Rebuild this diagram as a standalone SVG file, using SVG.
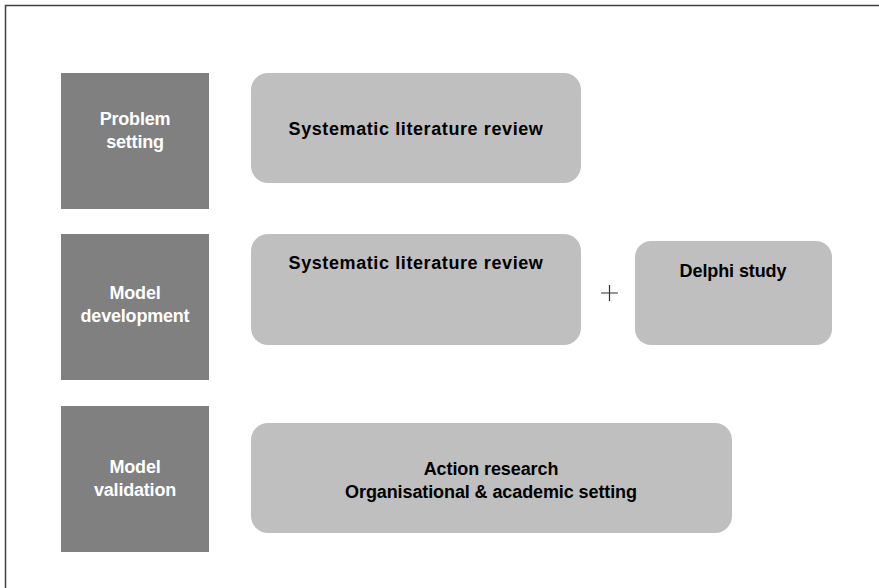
<svg xmlns="http://www.w3.org/2000/svg" width="879" height="588" viewBox="0 0 879 588">
  <style>
    .phase { fill: #808080; }
    .method { fill: #bfbfbf; }
    .phase-label { font-family: "Liberation Sans", Arial, sans-serif; font-weight: bold; font-size: 18px; fill: #ffffff; text-anchor: middle; letter-spacing: -0.2px; }
    .method-label { font-family: "Liberation Sans", Arial, sans-serif; font-weight: bold; font-size: 18px; fill: #000000; text-anchor: middle; letter-spacing: -0.1px; }
    .wide { letter-spacing: 0.6px; }
    .frame { fill: none; stroke: #404040; stroke-width: 1.5; }
    .plus { fill: none; stroke: #333333; stroke-width: 1.2; }
  </style>
  <rect width="879" height="588" fill="#ffffff"/>
  <path class="frame" d="M5.5,588 V5.5 H879"/>

  <!-- Phase column -->
  <g id="phase-problem-setting">
    <rect class="phase" x="61" y="73" width="148" height="136"/>
    <text class="phase-label" x="135" y="125">Problem</text>
    <text class="phase-label" x="135" y="148">setting</text>
  </g>
  <g id="phase-model-development">
    <rect class="phase" x="61" y="234" width="148" height="146"/>
    <text class="phase-label" x="135" y="299">Model</text>
    <text class="phase-label" x="135" y="322">development</text>
  </g>
  <g id="phase-model-validation">
    <rect class="phase" x="61" y="406" width="148" height="146"/>
    <text class="phase-label" x="135" y="473">Model</text>
    <text class="phase-label" x="135" y="496">validation</text>
  </g>

  <!-- Method boxes -->
  <g id="method-slr-1">
    <rect class="method" x="251" y="73" width="330" height="110" rx="17" ry="17"/>
    <text class="method-label wide" x="416" y="135">Systematic literature review</text>
  </g>
  <g id="method-slr-2">
    <rect class="method" x="251" y="234" width="330" height="111" rx="17" ry="17"/>
    <text class="method-label wide" x="416" y="269">Systematic literature review</text>
  </g>
  <g id="method-delphi">
    <rect class="method" x="635" y="241" width="197" height="104" rx="16" ry="16"/>
    <text class="method-label" x="733" y="277">Delphi study</text>
  </g>
  <g id="method-action-research">
    <rect class="method" x="251" y="423" width="481" height="110" rx="17" ry="17"/>
    <text class="method-label" x="491" y="475">Action research</text>
    <text class="method-label" x="491" y="498">Organisational &amp; academic setting</text>
  </g>

  <!-- Combination marker -->
  <g id="connectors">
    <path class="plus" d="M601,293 H618 M609.5,285 V301"/>
  </g>
</svg>
